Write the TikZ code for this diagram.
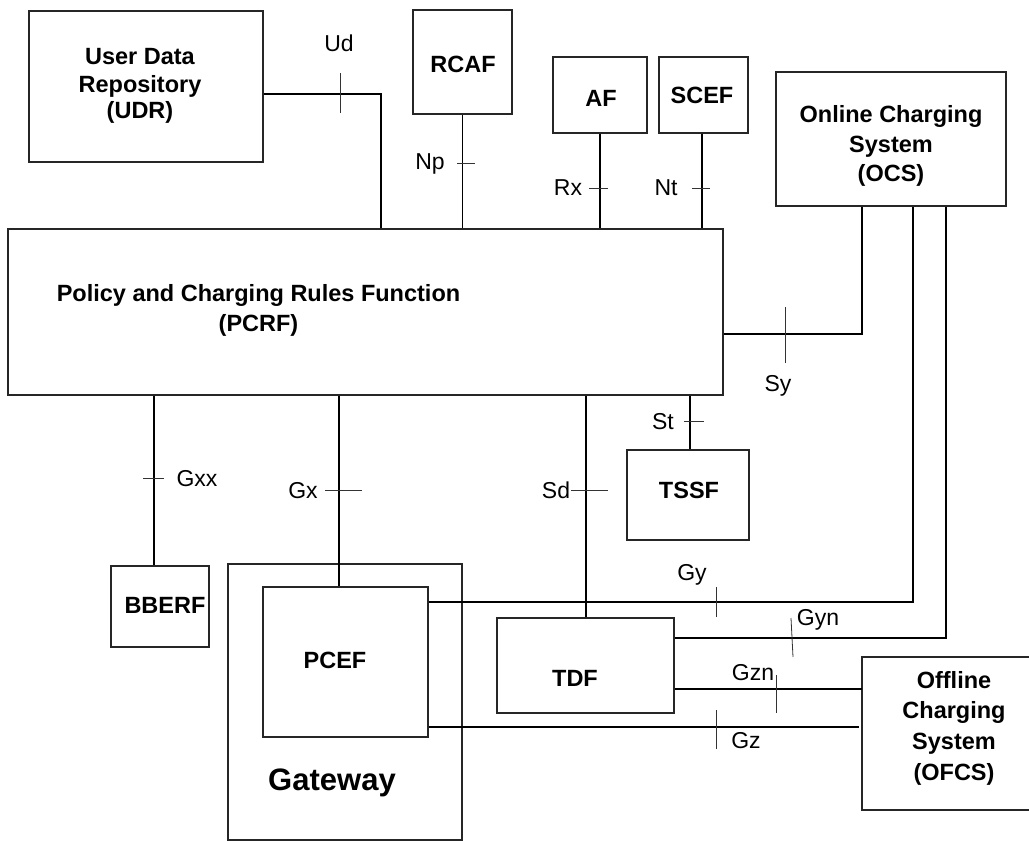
\documentclass[tikz,border=0pt]{standalone}
\usepackage{fontspec}
\setmainfont{Liberation Sans}
\begin{document}
\begin{tikzpicture}[x=1pt,y=-1pt,
  box/.style={draw=black!85,line width=1.4pt,inner sep=0pt,rectangle},
  bt/.style={font=\bfseries\fontsize{23.5}{27}\selectfont,anchor=base,inner sep=0pt},
  lt/.style={font=\fontsize{23}{27}\selectfont,anchor=base,inner sep=0pt},
  conn/.style={line width=1.1pt},
  thick conn/.style={line width=2pt},
  tick/.style={line width=0.8pt,black!80}]
\useasboundingbox (0,0) rectangle (1029,841);
% boxes
\node[box,minimum width=234pt,minimum height=151pt] (udr) at (146,86.5) {};
\node[box,minimum width=99pt,minimum height=104pt] (rcaf) at (462.5,62) {};
\node[box,minimum width=94pt,minimum height=76pt] (af) at (600,95) {};
\node[box,minimum width=89pt,minimum height=76pt] (scef) at (703.5,95) {};
\node[box,minimum width=230pt,minimum height=134pt] (ocs) at (891,139) {};
\node[box,minimum width=715pt,minimum height=166pt] (pcrf) at (365.5,312) {};
\node[box,minimum width=98pt,minimum height=81pt] (bberf) at (160,606.5) {};
\node[box,minimum width=234pt,minimum height=276pt] (gw) at (345,702) {};
\node[box,minimum width=165pt,minimum height=150pt] (pcef) at (345.5,662) {};
\node[box,minimum width=122pt,minimum height=90pt] (tssf) at (688,495) {};
\node[box,minimum width=177pt,minimum height=95pt] (tdf) at (585.5,665.5) {};
\node[box,minimum width=173pt,minimum height=153pt] (ofcs) at (948.5,733.5) {};
% box texts
\node[bt] (udr1) at (140,64) {User Data};
\node[bt] (udr2) at (140,92) {Repository};
\node[bt] (udr3) at (140,118) {(UDR)};
\node[bt] (rcaft) at (463,72) {RCAF};
\node[bt] (aft) at (601,106) {AF};
\node[bt] (sceft) at (702,103) {SCEF};
\node[bt] (ocs1) at (891,122) {Online Charging};
\node[bt] (ocs2) at (891,152) {System};
\node[bt] (ocs3) at (891,181) {(OCS)};
\node[bt] (pcrf1) at (258.5,301) {Policy and Charging Rules Function};
\node[bt] (pcrf2) at (258.5,331) {(PCRF)};
\node[bt] (bberft) at (165,613) {BBERF};
\node[bt] (pceft) at (335,668) {PCEF};
\node[bt,font=\bfseries\fontsize{31}{36}\selectfont] (gwt) at (332,790) {Gateway};
\node[bt] (tssft) at (689,498) {TSSF};
\node[bt] (tdft) at (575,686) {TDF};
\node[bt] (ofcs1) at (954,688) {Offline};
\node[bt] (ofcs2) at (954,718) {Charging};
\node[bt] (ofcs3) at (954,749) {System};
\node[bt] (ofcs4) at (954,780) {(OFCS)};
% elbow coordinates
\coordinate (ud) at (381,94);
\coordinate (sy) at (862,334);
\coordinate (gy) at (913,602);
\coordinate (gyn) at (946,638);
\coordinate (gzn) at (862,689);
\coordinate (gz) at (859,727);
\coordinate (nt) at (702,0);
\coordinate (gxx) at (154,0);
\coordinate (gx) at (339,0);
\coordinate (sd) at (586,0);
\coordinate (st) at (690,0);
% connectors
\draw[conn] (udr.east |- ud) -- (ud) -- (ud |- pcrf.north);
\draw[conn] (rcaf.south) -- (rcaf.south |- pcrf.north);
\draw[conn] (af.south) -- (af.south |- pcrf.north);
\draw[conn] (scef.south -| nt) -- (nt |- pcrf.north);
\draw[conn] (pcrf.east |- sy) -- (sy) -- (sy |- ocs.south);
\draw[conn] (gxx |- pcrf.south) -- (gxx |- bberf.north);
\draw[thick conn] (gx |- pcrf.south) -- (gx |- pcef.north);
\draw[thick conn] (sd |- pcrf.south) -- (sd |- tdf.north);
\draw[conn] (st |- pcrf.south) -- (st |- tssf.north);
\draw[conn] (pcef.east |- gy) -- (gy) -- (gy |- ocs.south);
\draw[conn] (tdf.east |- gyn) -- (gyn) -- (gyn |- ocs.south);
\draw[conn] (tdf.east |- gzn) -- (gzn);
\draw[conn] (pcef.east |- gz) -- (gz);
% ticks
\draw[tick] (340,73) -- (340,113);
\draw[tick] (457,163) -- (475,163);
\draw[tick] (589,188) -- (608,188);
\draw[tick] (692,188) -- (710,188);
\draw[tick] (785,307) -- (785,363);
\draw[tick] (684,421) -- (704,421);
\draw[tick] (143,478) -- (164,478);
\draw[tick] (325,490) -- (362,490);
\draw[tick] (571,490) -- (608,490);
\draw[tick] (716,587) -- (716,617);
\draw[tick] (791,618) -- (793,657);
\draw[tick] (776,675) -- (776,713);
\draw[tick] (716,710) -- (716,749);
% interface labels
\node[lt] (lud) at (339,51) {Ud};
\node[lt] (lnp) at (430,169) {Np};
\node[lt] (lrx) at (568,195) {Rx};
\node[lt] (lnt) at (666,195) {Nt};
\node[lt] (lsy) at (778,391) {Sy};
\node[lt] (lst) at (663,429) {St};
\node[lt] (lgxx) at (197,486) {Gxx};
\node[lt] (lgx) at (303,498) {Gx};
\node[lt] (lsd) at (556,498) {Sd};
\node[lt] (lgy) at (692,580) {Gy};
\node[lt] (lgyn) at (818,625) {Gyn};
\node[lt] (lgzn) at (753,680) {Gzn};
\node[lt] (lgz) at (746,748) {Gz};
\end{tikzpicture}
\end{document}
